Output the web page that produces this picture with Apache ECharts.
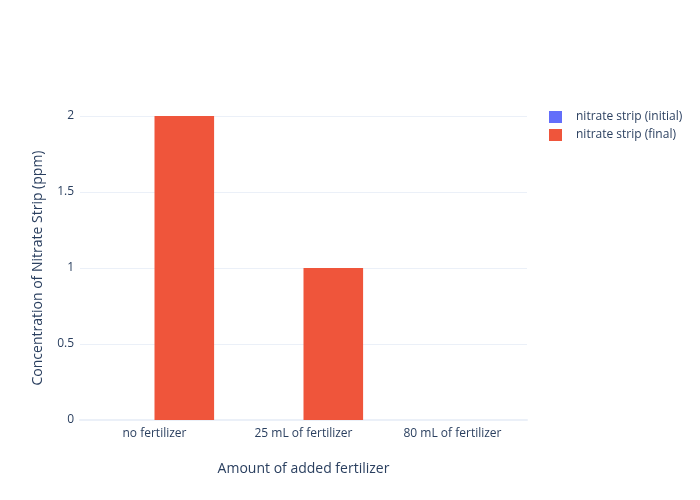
<!DOCTYPE html>
<html>
<head>
<meta charset="utf-8">
<script src="https://cdn.jsdelivr.net/npm/echarts@6/dist/echarts.min.js"></script>
<style>html,body{margin:0;padding:0;background:#fff}#c{width:700px;height:500px}</style>
</head>
<body>
<div id="c"></div>
<script>
const categories = ['no fertilizer', '25 mL of fertilizer', '80 mL of fertilizer'];
const initialValues = [0, 0, 0];
const finalValues = [2, 1, 0];
const yTicks = [0, 0.5, 1, 1.5, 2];

const font = '"Open Sans", sans-serif';
const txt = '#2a3f5f';
const chart = echarts.init(document.getElementById('c'), null, {renderer: 'canvas'});
chart.setOption({
  animation: false,
  textStyle: {fontFamily: font},
  grid: {left: 80, right: 173, top: 116, bottom: 80, containLabel: false},
  legend: {
    orient: 'vertical', left: 544, top: 106, itemWidth: 13, itemHeight: 12, itemGap: 6,
    icon: 'rect',
    textStyle: {fontFamily: font, fontSize: 12, color: txt, padding: [0, 0, 0, 9]},
    data: ['nitrate strip (initial)', 'nitrate strip (final)']
  },
  xAxis: {
    type: 'category', data: categories,
    name: 'Amount of added fertilizer', nameLocation: 'middle', nameGap: 42,
    nameTextStyle: {fontFamily: font, fontSize: 14, color: txt},
    axisLine: {show: true, lineStyle: {color: '#ebf0f8', width: 2}},
    axisTick: {show: false},
    axisLabel: {fontFamily: font, fontSize: 12, color: txt, margin: 8}
  },
  yAxis: {
    type: 'value', min: yTicks[0], max: yTicks[yTicks.length - 1], interval: 0.5,
    name: 'Concentration of Nitrate Strip (ppm)', nameLocation: 'middle', nameGap: 35,
    nameTextStyle: {fontFamily: font, fontSize: 14, color: txt},
    axisLine: {show: false}, axisTick: {show: false},
    axisLabel: {fontFamily: font, fontSize: 12, color: txt, margin: 6},
    splitLine: {lineStyle: {color: '#ebf0f8', width: 1}}
  },
  series: [
    {name: 'nitrate strip (initial)', type: 'bar', data: initialValues, itemStyle: {color: '#636efa'}, barGap: '0%', barCategoryGap: '20%'},
    {name: 'nitrate strip (final)', type: 'bar', data: finalValues, itemStyle: {color: '#EF553B'}, barGap: '0%', barCategoryGap: '20%'}
  ]
});
</script>
</body>
</html>
